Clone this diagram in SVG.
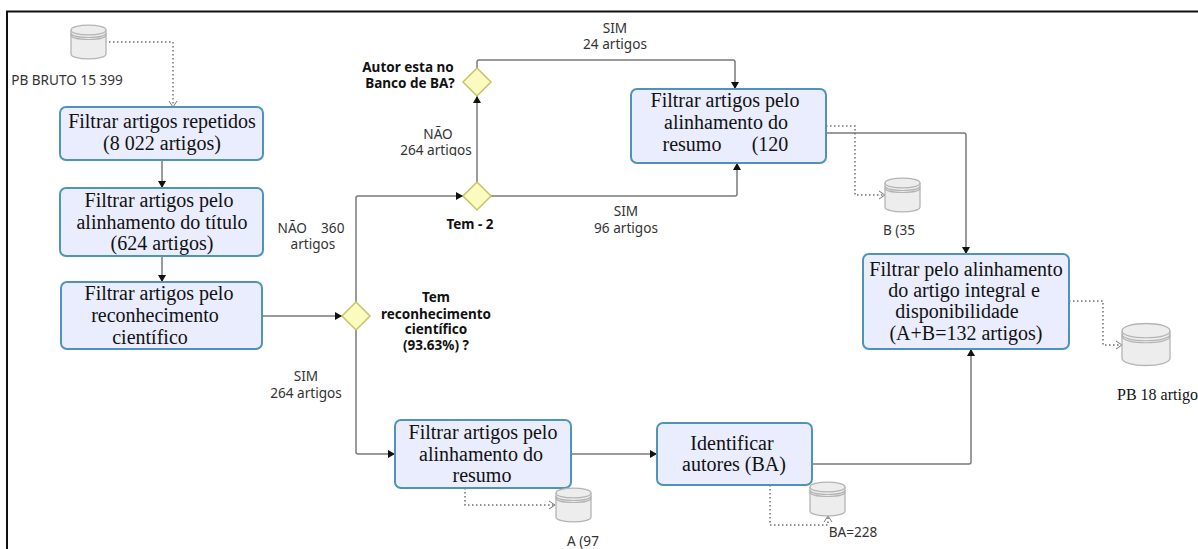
<svg xmlns="http://www.w3.org/2000/svg" width="1198" height="549" viewBox="0 0 1198 549">
<style>
.box{fill:#e9edfd;stroke:#4f94b8;stroke-width:2}
.dia{fill:#fbfbc0;stroke:#c4c468;stroke-width:1.5}
.cb{fill:#ededed;stroke:#b4b4b4;stroke-width:1.3}
.cl{fill:none;stroke:#b4b4b4;stroke-width:1.2}
.c{fill:none;stroke:#7a7a7a;stroke-width:1.5}
.d{fill:none;stroke:#707070;stroke-width:1.5;stroke-dasharray:1.5 2.5}
.s{font-family:"Liberation Serif",serif;font-size:20px;fill:#111;text-anchor:middle}
.l{font-family:"Noto Sans",sans-serif;font-size:13.6px;fill:#333;text-anchor:middle}
.b{font-family:"Noto Sans",sans-serif;font-size:13.5px;font-weight:700;fill:#111;text-anchor:middle}
</style>
<defs>
<marker id="a" markerWidth="8" markerHeight="8" refX="7" refY="4" orient="auto" markerUnits="userSpaceOnUse"><path d="M0 0L7 4L0 8Z" fill="#111"/></marker>
<marker id="o" markerWidth="8" markerHeight="10" refX="7" refY="5" orient="auto" markerUnits="userSpaceOnUse"><path d="M1 1L7 5L1 9" fill="none" stroke="#777"/></marker>
<g id="cyl"><path class="cb" d="M0 5C0 -1.5 35 -1.5 35 5V29C35 35.5 0 35.5 0 29Z"/><path class="cl" d="M0 5C0 11.5 35 11.5 35 5M0 8C0 14 35 14 35 8M0 10C0 16 35 16 35 10"/></g>
<clipPath id="clipNao"><rect x="380" y="120" width="110" height="36"/></clipPath>
</defs>
<path d="M7 549V11.500H1198" fill="none" stroke="#111" stroke-width="2"/>
<g id="connectors">
<path class="d" d="M105 42H173V107" marker-end="url(#o)"/>
<path class="c" d="M162 160V188" marker-end="url(#a)"/>
<path class="c" d="M162 256V282" marker-end="url(#a)"/>
<path class="c" d="M262 316H342" marker-end="url(#a)"/>
<path class="c" d="M356 302V198Q356 196 358 196H463" marker-end="url(#a)"/>
<path class="c" d="M356 330V452Q356 454 358 454H395" marker-end="url(#a)"/>
<path class="c" d="M477 182V96" marker-end="url(#a)"/>
<path class="c" d="M477 68V62Q477 60 479 60H733Q735 60 735 62V89" marker-end="url(#a)"/>
<path class="c" d="M491 196H735Q737 196 737 194V163" marker-end="url(#a)"/>
<path class="c" d="M826 133H964Q966 133 966 135V254" marker-end="url(#a)"/>
<path class="d" d="M826 126H855V195H885" marker-end="url(#o)"/>
<path class="d" d="M1069 301H1103V345H1122" marker-end="url(#o)"/>
<path class="c" d="M571 454H657" marker-end="url(#a)"/>
<path class="c" d="M812 464H969Q971 464 971 462V349" marker-end="url(#a)"/>
<path class="d" d="M465 488V505H555" marker-end="url(#o)"/>
<path class="d" d="M770 485V525H828V516" marker-end="url(#o)"/>
</g>
<g id="db-bruto"><use href="#cyl" x="71" y="25"/><text class="l" x="67" y="85">PB BRUTO 15 399</text></g>
<g id="n-repetidos"><rect class="box" x="60" y="107" width="203" height="53" rx="6"/><text class="s" x="162" y="128">Filtrar artigos repetidos</text><text class="s" x="162" y="150">(8 022 artigos)</text></g>
<g id="n-titulo"><rect class="box" x="60" y="188" width="203" height="68" rx="6"/><text class="s" x="159" y="207">Filtrar artigos pelo</text><text class="s" x="162" y="229">alinhamento do título</text><text class="s" x="162" y="250">(624 artigos)</text></g>
<g id="n-reconhecimento"><rect class="box" x="61" y="282" width="201" height="67" rx="6"/><text class="s" x="159" y="300">Filtrar artigos pelo</text><text class="s" x="155" y="322">reconhecimento</text><text class="s" x="150" y="344">científico</text></g>
<g id="d-reconhecimento"><path class="dia" d="M356 302L370 316L356 330L342 316Z"/><text class="b" x="436" y="302">Tem</text><text class="b" x="436" y="319">reconhecimento</text><text class="b" x="436" y="334">científico</text><text class="b" x="436" y="350">(93.63%) ?</text></g>
<g id="d-tem2"><path class="dia" d="M477 182L491 196L477 210L463 196Z"/><text class="b" x="470" y="229">Tem - 2</text></g>
<g id="d-autor"><path class="dia" d="M477 68L491 82L477 96L463 82Z"/><text class="b" x="408" y="72">Autor esta no</text><text class="b" x="410" y="88">Banco de BA?</text></g>
<g id="n-resumo2"><rect class="box" x="631" y="89" width="195" height="74" rx="6"/><text class="s" x="725" y="107">Filtrar artigos pelo</text><text class="s" x="726" y="129">alinhamento do</text><text class="s" x="692" y="151">resumo</text><text class="s" x="770" y="151">(120</text></g>
<g id="db-b"><use href="#cyl" x="885" y="178"/><text class="l" x="899" y="235">B (35</text></g>
<g id="n-integral"><rect class="box" x="863" y="254" width="206" height="95" rx="6"/><text class="s" x="966" y="276">Filtrar pelo alinhamento</text><text class="s" x="964" y="297">do artigo integral e</text><text class="s" x="957" y="318">disponibilidade</text><text class="s" x="966" y="340">(A+B=132 artigos)</text></g>
<g id="db-pb"><path class="cb" d="M1122 331C1122 321 1170 321 1170 331V358C1170 368 1122 368 1122 358Z"/><path class="cl" d="M1122 331C1122 340 1170 340 1170 331M1122 334C1122 343 1170 343 1170 334M1122 336C1122 345 1170 345 1170 336"/><text x="1117" y="400" font-family="Liberation Serif,serif" font-size="16" fill="#111">PB 18 artigos</text></g>
<g id="n-resumo1"><rect class="box" x="395" y="420" width="176" height="68" rx="6"/><text class="s" x="483" y="439">Filtrar artigos pelo</text><text class="s" x="481" y="461">alinhamento do</text><text class="s" x="482" y="482">resumo</text></g>
<g id="db-a"><use href="#cyl" x="556" y="488"/><text class="l" x="583" y="546">A (97</text></g>
<g id="n-autores"><rect class="box" x="657" y="423" width="155" height="62" rx="6"/><text class="s" x="732" y="450">Identificar</text><text class="s" x="734" y="471">autores (BA)</text></g>
<g id="db-ba"><use href="#cyl" x="810" y="482"/><text class="l" x="853" y="537">BA=228</text></g>
<g id="labels">
<text class="l" x="311" y="233" xml:space="preserve">NÃO    360</text><text class="l" x="313" y="249">artigos</text>
<text class="l" x="306" y="381">SIM</text><text class="l" x="306" y="398">264 artigos</text>
<text class="l" x="438" y="139">NÃO</text><text class="l" x="436" y="155" clip-path="url(#clipNao)">264 artigos</text>
<text class="l" x="615" y="33">SIM</text><text class="l" x="615" y="49">24 artigos</text>
<text class="l" x="626" y="216">SIM</text><text class="l" x="626" y="233">96 artigos</text>
</g>
</svg>
